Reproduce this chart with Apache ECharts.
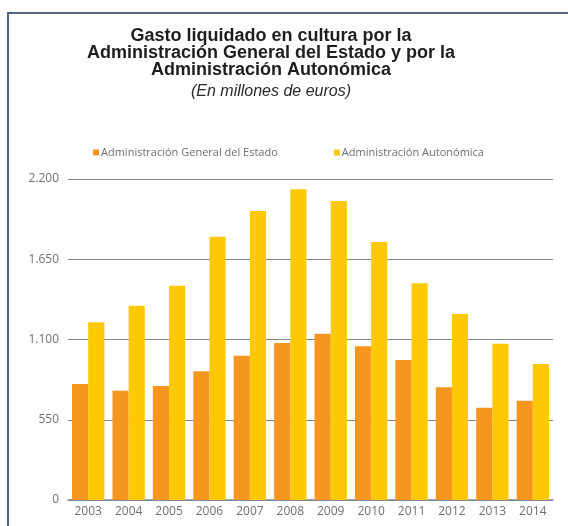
<!DOCTYPE html>
<html>
<head>
<meta charset="utf-8">
<script src="https://cdn.jsdelivr.net/npm/echarts@6/dist/echarts.min.js"></script>
<style>
html,body{margin:0;padding:0;background:#fff;}
#chart{width:568px;height:526px;}
</style>
</head>
<body>
<div id="chart"></div>
<script>
const years = ['2003','2004','2005','2006','2007','2008','2009','2010','2011','2012','2013','2014'];
const estado = [795, 749, 781, 882, 989, 1076, 1140, 1053, 960, 772, 633, 681];
const autonomica = [1218, 1332, 1469, 1805, 1981, 2130, 2049, 1768, 1485, 1275, 1071, 932];
const seriesNames = ['Administración General del Estado', 'Administración Autonómica'];
const yTicks = [0, 550, 1100, 1650, 2200];
const yTickLabels = ['0', '550', '1.100', '1.650', '2.200'];

const chart = echarts.init(document.getElementById('chart'), null, {renderer:'canvas'});
chart.setOption({
  animation: false,
  backgroundColor: '#ffffff',
  graphic: [
    {type:'line', shape:{x1:8, y1:13, x2:568, y2:13}, style:{stroke:'#56657f', lineWidth:2}},
    {type:'line', shape:{x1:8, y1:12, x2:8, y2:526}, style:{stroke:'#56657f', lineWidth:2}}
  ],
  title: {
    text: 'Gasto liquidado en cultura por la\nAdministración General del Estado y por la\nAdministración Autonómica',
    subtext: '(En millones de euros)',
    left: 266, top: 23, textAlign: 'center',
    itemGap: 3,
    textStyle: {fontFamily:'Liberation Sans', fontSize:18, fontWeight:'bold', color:'#1e1e1e', lineHeight:17},
    subtextStyle: {fontFamily:'Liberation Sans', fontSize:16, fontStyle:'italic', color:'#2a2a2a', lineHeight:17}
  },
  legend: {
    data: seriesNames,
    left: 88, top: 142,
    icon: 'rect', itemWidth: 6, itemHeight: 6, itemGap: 56,
    textStyle: {fontFamily:'Open Sans', fontSize:11, color:'#6e6e6e', padding:[0,0,0,-3]}
  },
  grid: {left:68, right:15, top:179, bottom:26, containLabel:false},
  xAxis: {
    type: 'category', data: years,
    axisLine: {lineStyle:{color:'#7b8aa0', width:1.5}},
    axisTick: {show:false},
    axisLabel: {fontFamily:'Open Sans', fontSize:12, color:'#707070', margin:6}
  },
  yAxis: {
    type: 'value', min: 0, max: 2200, interval: 550,
    axisLine: {show:false}, axisTick: {show:false},
    axisLabel: {fontFamily:'Open Sans', fontSize:12, color:'#707070', margin:9,
      formatter: v => { const i = yTicks.indexOf(v); return i >= 0 ? yTickLabels[i] : ''; }},
    splitLine: {lineStyle:{color:'#858585', width:1}}
  },
  series: [
    {name: seriesNames[0], type:'bar', data: estado, itemStyle:{color:'#F7961F'}, barGap:'0%', barCategoryGap:'20%'},
    {name: seriesNames[1], type:'bar', data: autonomica, itemStyle:{color:'#FDC805'}, barGap:'0%', barCategoryGap:'20%'}
  ]
});
</script>
</body>
</html>
